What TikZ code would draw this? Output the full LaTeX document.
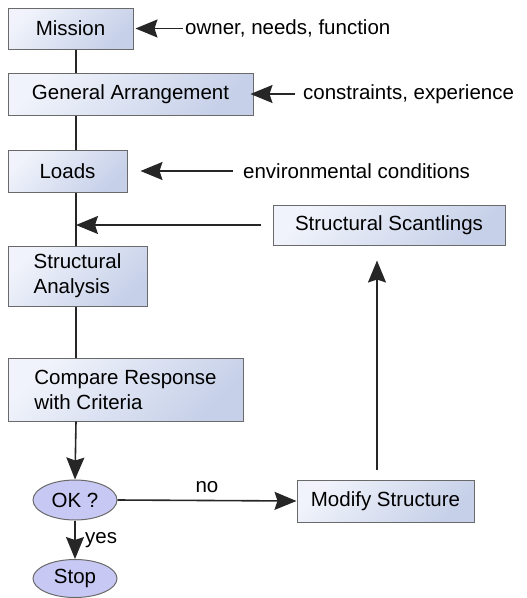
\documentclass[tikz,border=0pt]{standalone}
\usepackage{fontspec}
\setmainfont{Liberation Sans}
\usetikzlibrary{arrows.meta,shapes.geometric}
\definecolor{boxlight}{HTML}{F0F3FB}
\definecolor{boxdark}{HTML}{C6D0E8}
\definecolor{okfill}{HTML}{C8C8F4}
\definecolor{rim}{HTML}{6A6A6A}

\begin{document}
\begin{tikzpicture}[x=1pt,y=-1pt,
    font=\fontsize{20.5}{25}\selectfont,
    stepbox/.style={draw=rim,line width=1pt,top color=boxlight,bottom color=boxdark,shading angle=45,
        align=left,inner sep=0pt},
    decision/.style={ellipse,draw=rim,line width=1pt,fill=okfill,inner sep=0pt,minimum width=84pt},
    link/.style={line width=1.6pt,draw=black!85},
    flow/.style={link,arrows={-Stealth[length=22pt,width=18pt,inset=3pt]}}]
    \useasboundingbox (0,0) rectangle (527,598);
    \coordinate (spine) at (76,0);
    % left column
    \node[stepbox,minimum width=125pt,minimum height=41pt] (mission) at (70.5,28.5) {Mission};
    \node[stepbox,minimum width=245pt,minimum height=42pt] (arrange) at (130.5,94) {General Arrangement};
    \node[stepbox,minimum width=119pt,minimum height=42pt] (loads) at (67.5,171) {Loads};
    \node[stepbox,minimum width=139pt,minimum height=60pt] (analysis) at (77.5,276) {Structural\\Analysis};
    \node[stepbox,minimum width=235pt,minimum height=63pt] (compare) at (125.5,389.5) {Compare Response\\with Criteria};
    \node[decision,minimum height=40pt] (ok) at (75,500) {OK ?};
    \node[decision,minimum height=38pt] (stop) at (75,578.5) {Stop};
    % right column
    \node[stepbox,minimum width=232pt,minimum height=40pt] (scant) at (389,225) {Structural Scantlings};
    \node[stepbox,minimum width=177pt,minimum height=42pt] (modify) at (385.5,501) {Modify Structure};
    % inputs
    \node[anchor=west,inner sep=0pt] (owner) at (185,28.5) {owner, needs, function};
    \node[anchor=west,inner sep=0pt] (constr) at (303,94) {constraints, experience};
    \node[anchor=west,inner sep=0pt] (env) at (243,171) {environmental conditions};
    \draw[link] (mission.south -| spine) -- (arrange.north -| spine);
    \draw[link] (arrange.south -| spine) -- (loads.north -| spine);
    \draw[link] (loads.south -| spine) -- (analysis.north -| spine);
    \draw[link] (analysis.south -| spine) -- (compare.north -| spine);
    \draw[flow,shorten <=2pt,shorten >=2pt] (owner.west) -- (mission.east);
    \draw[flow,shorten <=8pt,shorten >=-3pt] (constr.west) -- (arrange.east);
    \draw[flow,shorten <=10pt,shorten >=13pt] (env.west) -- (loads.east);
    \draw[flow,shorten <=12pt] (scant.west) -- (scant.west -| spine);
    \draw[flow] (compare.south -| spine) -- (ok.north);
    \draw[flow] (ok.east) -- node[above=4pt]{no} (modify.west);
    \draw[flow] (ok.south) -- node[right=6pt]{yes} (stop.north);
    \draw[flow,shorten <=10pt,shorten >=15pt] (modify.north -| 377,0) -- (scant.south -| 377,0);
\end{tikzpicture}
\end{document}
